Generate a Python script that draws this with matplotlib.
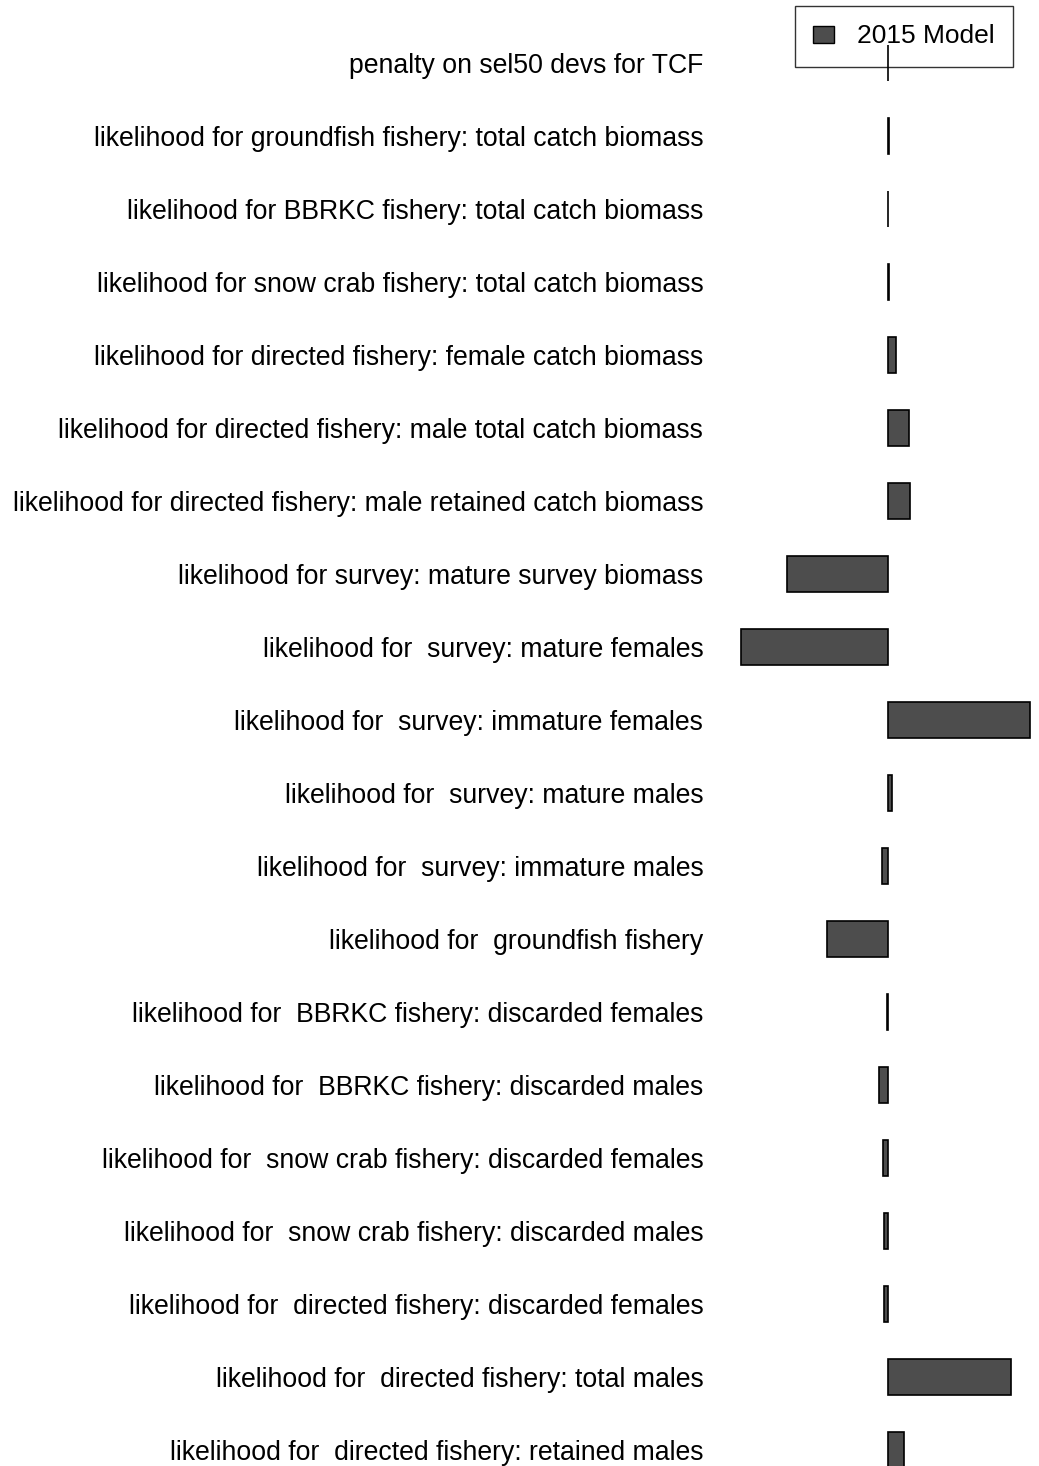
import matplotlib.pyplot as plt
from matplotlib.patches import Patch

plt.rcParams['font.family'] = ['Liberation Sans', 'DejaVu Sans']

components = [
    "penalty on sel50 devs for TCF",
    "likelihood for groundfish fishery: total catch biomass",
    "likelihood for BBRKC fishery: total catch biomass",
    "likelihood for snow crab fishery: total catch biomass",
    "likelihood for directed fishery: female catch biomass",
    "likelihood for directed fishery: male total catch biomass",
    "likelihood for directed fishery: male retained catch biomass",
    "likelihood for survey: mature survey biomass",
    "likelihood for  survey: mature females",
    "likelihood for  survey: immature females",
    "likelihood for  survey: mature males",
    "likelihood for  survey: immature males",
    "likelihood for  groundfish fishery",
    "likelihood for  BBRKC fishery: discarded females",
    "likelihood for  BBRKC fishery: discarded males",
    "likelihood for  snow crab fishery: discarded females",
    "likelihood for  snow crab fishery: discarded males",
    "likelihood for  directed fishery: discarded females",
    "likelihood for  directed fishery: total males",
    "likelihood for  directed fishery: retained males",
]
model_2015 = [0.0, 0.1, 0.0, 0.1, 0.8, 2.1, 2.2, -10.1, -14.7, 14.2,
              0.4, -0.6, -6.1, -0.15, -0.9, -0.55, -0.45, -0.45, 12.3, 1.6]

fig = plt.figure(figsize=(10.39, 14.66), dpi=100)
ax = fig.add_axes([720 / 1039, 0, 319 / 1039, 1])

pos = list(range(len(components)))
ax.barh(pos, model_2015, height=0.5, color='#4d4d4d', edgecolor='black',
        linewidth=1.2, label='2015 Model')

ax.set_xlim(-16.8, 15.1)
ax.set_ylim((1466 - 63) / 73, -63 / 73)
ax.set_yticks(pos)
ax.set_yticklabels(components, fontsize=19.2)
ax.tick_params(axis='y', length=0, pad=12)
ax.set_xticks([])
for s in ax.spines.values():
    s.set_visible(False)

leg = fig.legend(handles=[Patch(facecolor='#4d4d4d', edgecolor='black', label='2015 Model')],
                 loc='upper left', bbox_to_anchor=(795 / 1039, 1 - 6 / 1466),
                 fontsize=19, frameon=True, fancybox=False,
                 handlelength=0.76, handleheight=0.6, handletextpad=0.9,
                 borderpad=0.7, borderaxespad=0)
leg.get_frame().set_facecolor('none')
leg.get_frame().set_edgecolor('black')
leg.get_frame().set_linewidth(1.0)

fig.savefig('out.png', dpi=100)
